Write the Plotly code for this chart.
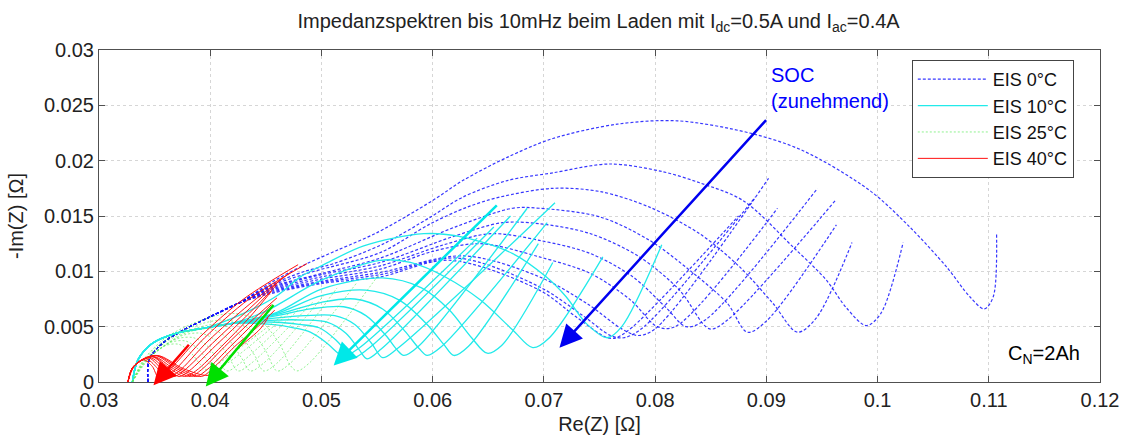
import plotly.graph_objects as go

# ---------------- data (Re(Z), -Im(Z) in Ohm) ----------------
# 0 degC  (blue, dotted)
BLUE_START_RE = [0.0344, 0.0345, 0.0357, 0.0376, 0.0400, 0.0425]
BLUE_START_IM = [0.0000, 0.0020, 0.0035, 0.0047, 0.0059, 0.0071]
BLUE_RE = [
    [0.0455, 0.0485, 0.0514, 0.0550, 0.0600, 0.0627, 0.0667, 0.0708, 0.0766, 0.0820, 0.0885, 0.0933, 0.0993, 0.1029, 0.1062, 0.1083, 0.1096, 0.1104, 0.1107],
    [0.0455, 0.0485, 0.0511, 0.0556, 0.0598, 0.0627, 0.0667, 0.0708, 0.0759, 0.0807, 0.0840, 0.0879, 0.0924, 0.0954, 0.0972, 0.0990, 0.1003, 0.1023],
    [0.0455, 0.0490, 0.0553, 0.0598, 0.0631, 0.0660, 0.0708, 0.0751, 0.0795, 0.0840, 0.0876, 0.0906, 0.0928, 0.0945, 0.0977],
    [0.0455, 0.0500, 0.0553, 0.0620, 0.0672, 0.0696, 0.0751, 0.0795, 0.0831, 0.0865, 0.0883, 0.0900, 0.0963],
    [0.0455, 0.0500, 0.0553, 0.0620, 0.0663, 0.0696, 0.0742, 0.0786, 0.0822, 0.0849, 0.0865, 0.0962],
    [0.0455, 0.0500, 0.0553, 0.0610, 0.0652, 0.0696, 0.0742, 0.0780, 0.0810, 0.0828, 0.0845, 0.0946],
    [0.0455, 0.0500, 0.0553, 0.0600, 0.0643, 0.0696, 0.0742, 0.0778, 0.0802, 0.0818, 0.0910],
    [0.0455, 0.0500, 0.0553, 0.0628, 0.0696, 0.0740, 0.0770, 0.0785, 0.0800, 0.0902],
    [0.0455, 0.0500, 0.0553, 0.0622, 0.0696, 0.0735, 0.0760, 0.0772, 0.0790, 0.0890],
    [0.0455, 0.0500, 0.0553, 0.0615, 0.0696, 0.0730, 0.0757, 0.0765, 0.0780, 0.0875],
]
BLUE_IM = [
    [0.0090, 0.0106, 0.0119, 0.0135, 0.0164, 0.0182, 0.0203, 0.0220, 0.0233, 0.0236, 0.0225, 0.0209, 0.0173, 0.0140, 0.0104, 0.0077, 0.0066, 0.0077, 0.0135],
    [0.0088, 0.0100, 0.0107, 0.0125, 0.0149, 0.0167, 0.0182, 0.0189, 0.0197, 0.0190, 0.0180, 0.0164, 0.0122, 0.0092, 0.0067, 0.0051, 0.0062, 0.0126],
    [0.0087, 0.0099, 0.0117, 0.0143, 0.0158, 0.0167, 0.0175, 0.0172, 0.0158, 0.0134, 0.0104, 0.0071, 0.0045, 0.0058, 0.0126],
    [0.0086, 0.0098, 0.0112, 0.0140, 0.0157, 0.0157, 0.0149, 0.0128, 0.0101, 0.0071, 0.0045, 0.0055, 0.0142],
    [0.0085, 0.0097, 0.0108, 0.0132, 0.0144, 0.0143, 0.0134, 0.0113, 0.0083, 0.0048, 0.0056, 0.0164],
    [0.0084, 0.0095, 0.0105, 0.0124, 0.0134, 0.0128, 0.0116, 0.0095, 0.0067, 0.0050, 0.0056, 0.0175],
    [0.0083, 0.0093, 0.0102, 0.0118, 0.0125, 0.0113, 0.0098, 0.0074, 0.0050, 0.0050, 0.0157],
    [0.0082, 0.0091, 0.0099, 0.0114, 0.0095, 0.0070, 0.0048, 0.0042, 0.0048, 0.0184],
    [0.0081, 0.0090, 0.0097, 0.0112, 0.0086, 0.0060, 0.0042, 0.0040, 0.0050, 0.0167],
    [0.0080, 0.0089, 0.0095, 0.0110, 0.0083, 0.0058, 0.0040, 0.0040, 0.0050, 0.0150],
]

# 10 degC  (cyan, solid)
CYAN_START_RE = [0.0330, 0.0335, 0.0348, 0.0369]
CYAN_START_IM = [0.0000, 0.0020, 0.0035, 0.0044]
CYAN_RE = [
    [0.0396, 0.0430, 0.0460, 0.0481, 0.0502, 0.0538, 0.0592, 0.0627, 0.0672, 0.0702, 0.0720, 0.0738, 0.0757, 0.0770, 0.0806],
    [0.0396, 0.0420, 0.0450, 0.0500, 0.0553, 0.0580, 0.0613, 0.0643, 0.0672, 0.0690, 0.0705, 0.0753],
    [0.0396, 0.0420, 0.0460, 0.0500, 0.0555, 0.0590, 0.0615, 0.0635, 0.0649, 0.0662, 0.0708],
    [0.0396, 0.0420, 0.0460, 0.0500, 0.0540, 0.0570, 0.0595, 0.0610, 0.0619, 0.0632, 0.0695],
    [0.0396, 0.0420, 0.0460, 0.0500, 0.0530, 0.0555, 0.0575, 0.0588, 0.0595, 0.0608, 0.0703],
    [0.0396, 0.0420, 0.0460, 0.0490, 0.0520, 0.0540, 0.0558, 0.0568, 0.0574, 0.0587, 0.0685],
    [0.0396, 0.0420, 0.0460, 0.0485, 0.0512, 0.0530, 0.0545, 0.0555, 0.0568, 0.0710],
    [0.0396, 0.0420, 0.0460, 0.0485, 0.0505, 0.0522, 0.0534, 0.0541, 0.0554, 0.0670],
    [0.0396, 0.0420, 0.0460, 0.0480, 0.0498, 0.0513, 0.0523, 0.0529, 0.0542, 0.0655],
    [0.0396, 0.0420, 0.0455, 0.0475, 0.0490, 0.0505, 0.0515, 0.0520, 0.0533, 0.0640],
]
CYAN_IM = [
    [0.0049, 0.0062, 0.0078, 0.0095, 0.0106, 0.0123, 0.0134, 0.0131, 0.0116, 0.0095, 0.0077, 0.0053, 0.0040, 0.0050, 0.0124],
    [0.0049, 0.0053, 0.0064, 0.0092, 0.0110, 0.0108, 0.0094, 0.0074, 0.0047, 0.0031, 0.0040, 0.0113],
    [0.0049, 0.0053, 0.0063, 0.0084, 0.0094, 0.0085, 0.0065, 0.0040, 0.0026, 0.0033, 0.0108],
    [0.0049, 0.0053, 0.0062, 0.0078, 0.0083, 0.0074, 0.0052, 0.0034, 0.0024, 0.0032, 0.0125],
    [0.0049, 0.0053, 0.0061, 0.0072, 0.0075, 0.0066, 0.0046, 0.0030, 0.0024, 0.0032, 0.0144],
    [0.0049, 0.0053, 0.0060, 0.0066, 0.0068, 0.0060, 0.0042, 0.0029, 0.0024, 0.0032, 0.0157],
    [0.0049, 0.0053, 0.0058, 0.0060, 0.0060, 0.0052, 0.0035, 0.0022, 0.0030, 0.0162],
    [0.0049, 0.0053, 0.0056, 0.0056, 0.0054, 0.0044, 0.0029, 0.0021, 0.0030, 0.0150],
    [0.0049, 0.0053, 0.0054, 0.0052, 0.0049, 0.0038, 0.0027, 0.0022, 0.0030, 0.0140],
    [0.0049, 0.0053, 0.0052, 0.0049, 0.0045, 0.0035, 0.0026, 0.0023, 0.0030, 0.0130],
]

# 25 degC  (green, dotted)
GREEN_RE = [
    [0.0330, 0.0340, 0.0360, 0.0390, 0.0420, 0.0445, 0.0462, 0.0472, 0.0478, 0.0490, 0.0553],
    [0.0330, 0.0340, 0.0360, 0.0390, 0.0415, 0.0435, 0.0450, 0.0460, 0.0472, 0.0532],
    [0.0330, 0.0340, 0.0360, 0.0385, 0.0408, 0.0425, 0.0440, 0.0448, 0.0460, 0.0514],
    [0.0330, 0.0340, 0.0360, 0.0380, 0.0400, 0.0415, 0.0428, 0.0436, 0.0448, 0.0502],
    [0.0330, 0.0340, 0.0358, 0.0375, 0.0392, 0.0407, 0.0418, 0.0425, 0.0437, 0.0492],
    [0.0330, 0.0340, 0.0355, 0.0370, 0.0385, 0.0398, 0.0408, 0.0415, 0.0427, 0.0482],
    [0.0330, 0.0340, 0.0352, 0.0365, 0.0378, 0.0390, 0.0399, 0.0405, 0.0417, 0.0472],
    [0.0330, 0.0340, 0.0350, 0.0360, 0.0372, 0.0383, 0.0391, 0.0397, 0.0409, 0.0465],
]
GREEN_IM = [
    [0.0000, 0.0020, 0.0040, 0.0055, 0.0062, 0.0055, 0.0035, 0.0015, 0.0010, 0.0018, 0.0099],
    [0.0000, 0.0019, 0.0038, 0.0052, 0.0056, 0.0048, 0.0028, 0.0010, 0.0017, 0.0090],
    [0.0000, 0.0018, 0.0036, 0.0048, 0.0052, 0.0044, 0.0024, 0.0010, 0.0017, 0.0085],
    [0.0000, 0.0017, 0.0034, 0.0045, 0.0048, 0.0040, 0.0022, 0.0010, 0.0017, 0.0078],
    [0.0000, 0.0017, 0.0032, 0.0042, 0.0044, 0.0036, 0.0020, 0.0010, 0.0017, 0.0072],
    [0.0000, 0.0016, 0.0030, 0.0039, 0.0040, 0.0032, 0.0018, 0.0010, 0.0017, 0.0068],
    [0.0000, 0.0016, 0.0028, 0.0036, 0.0037, 0.0029, 0.0017, 0.0011, 0.0018, 0.0063],
    [0.0000, 0.0015, 0.0026, 0.0033, 0.0034, 0.0026, 0.0016, 0.0011, 0.0018, 0.0060],
]

# 40 degC  (red, solid)
RED_RE = [
    [0.0326, 0.0331, 0.0340, 0.0348, 0.0353, 0.0360, 0.0390, 0.0430, 0.0479],
    [0.0326, 0.0331, 0.0342, 0.0352, 0.0358, 0.0366, 0.0395, 0.0435, 0.0487],
    [0.0326, 0.0331, 0.0344, 0.0355, 0.0362, 0.0371, 0.0398, 0.0435, 0.0472],
    [0.0326, 0.0331, 0.0346, 0.0358, 0.0367, 0.0376, 0.0402, 0.0435, 0.0465],
    [0.0326, 0.0331, 0.0347, 0.0361, 0.0372, 0.0381, 0.0405, 0.0435, 0.0460],
    [0.0326, 0.0331, 0.0348, 0.0364, 0.0377, 0.0387, 0.0410, 0.0435, 0.0455],
    [0.0326, 0.0331, 0.0349, 0.0367, 0.0382, 0.0392, 0.0413, 0.0440, 0.0460],
    [0.0326, 0.0331, 0.0350, 0.0370, 0.0387, 0.0397, 0.0418, 0.0440, 0.0455],
    [0.0326, 0.0331, 0.0351, 0.0373, 0.0392, 0.0402, 0.0422, 0.0445, 0.0458],
    [0.0326, 0.0331, 0.0352, 0.0376, 0.0398, 0.0408, 0.0427, 0.0445, 0.0452],
]
RED_IM = [
    [0.0000, 0.0013, 0.0020, 0.0014, 0.0005, 0.0008, 0.0040, 0.0075, 0.0106],
    [0.0000, 0.0014, 0.0021, 0.0013, 0.0005, 0.0009, 0.0040, 0.0075, 0.0107],
    [0.0000, 0.0014, 0.0022, 0.0013, 0.0005, 0.0009, 0.0037, 0.0070, 0.0099],
    [0.0000, 0.0014, 0.0022, 0.0013, 0.0005, 0.0010, 0.0035, 0.0066, 0.0094],
    [0.0000, 0.0014, 0.0023, 0.0013, 0.0005, 0.0010, 0.0033, 0.0062, 0.0088],
    [0.0000, 0.0014, 0.0023, 0.0012, 0.0005, 0.0010, 0.0032, 0.0058, 0.0082],
    [0.0000, 0.0014, 0.0023, 0.0012, 0.0005, 0.0011, 0.0032, 0.0058, 0.0076],
    [0.0000, 0.0014, 0.0024, 0.0012, 0.0005, 0.0011, 0.0032, 0.0054, 0.0070],
    [0.0000, 0.0014, 0.0024, 0.0012, 0.0005, 0.0012, 0.0032, 0.0052, 0.0065],
    [0.0000, 0.0014, 0.0024, 0.0012, 0.0006, 0.0012, 0.0032, 0.0048, 0.0058],
]

LEGEND_NAMES = ["EIS 0°C", "EIS 10°C", "EIS 25°C", "EIS 40°C"]

# SOC arrows: (tail_re, tail_im, head_re, head_im, colour)
ARROWS = [
    (0.0901, 0.0238, 0.0714, 0.0031, "#0000f0"),
    (0.0659, 0.0161, 0.0511, 0.0015, "#00e8e8"),
    (0.0458, 0.0071, 0.0396, -0.0004, "#00e000"),
    (0.0382, 0.0035, 0.0349, -0.0003, "#ff0000"),
]

FONT = "Liberation Sans, Arial, sans-serif"

fig = go.Figure()

families = [
    (BLUE_RE, BLUE_IM, BLUE_START_RE, BLUE_START_IM, dict(color="rgba(20,20,255,0.85)", width=1.2, dash="3px,2px")),
    (CYAN_RE, CYAN_IM, CYAN_START_RE, CYAN_START_IM, dict(color="#22eaea", width=1.3)),
    (GREEN_RE, GREEN_IM, [], [], dict(color="rgba(90,235,90,0.75)", width=0.9, dash="2px,2px")),
    (RED_RE, RED_IM, [], [], dict(color="#ff1010", width=1.0)),
]

for k, (res, ims, sre, sim, line) in enumerate(families):
    for i, (xs, ys) in enumerate(zip(res, ims)):
        fig.add_trace(go.Scatter(
            x=sre + xs, y=sim + ys, mode="lines",
            line=dict(shape="spline", smoothing=0.9, **line),
            name=LEGEND_NAMES[k], legendgroup=LEGEND_NAMES[k],
            showlegend=(i == 0), hoverinfo="skip",
        ))

for tx, ty, hx, hy, col in ARROWS:
    fig.add_annotation(
        x=hx, y=hy, ax=tx, ay=ty, xref="x", yref="y", axref="x", ayref="y",
        showarrow=True, arrowhead=2, arrowsize=1.8, arrowwidth=2.5,
        arrowcolor=col, text="", standoff=0,
    )

fig.add_annotation(x=0.0902, y=0.0266, xref="x", yref="y", xanchor="left", yanchor="middle",
                   text="SOC<br>(zunehmend)", showarrow=False, align="left",
                   font=dict(family=FONT, size=20, color="#0000ff"))
fig.add_annotation(x=0.1150, y=0.0025, xref="x", yref="y", xanchor="center", yanchor="middle",
                   text="C<sub>N</sub>=2Ah", showarrow=False,
                   font=dict(family=FONT, size=20, color="#000000"))

axis_common = dict(
    showgrid=True, gridcolor="#d6d6d6", griddash="dot", gridwidth=1,
    showline=True, linecolor="#505050", linewidth=1, mirror="ticks",
    ticks="inside", ticklen=6, tickcolor="#505050",
    tickfont=dict(family=FONT, size=20, color="#222222"),
    zeroline=False, automargin=False,
)

fig.update_layout(
    width=1121, height=439,
    margin=dict(l=99, r=21, t=50, b=57),
    paper_bgcolor="white", plot_bgcolor="white",
    title=dict(text="Impedanzspektren bis 10mHz beim Laden mit I<sub>dc</sub>=0.5A und I<sub>ac</sub>=0.4A",
               x=0.534, xanchor="center", y=0.953, yanchor="middle",
               font=dict(family=FONT, size=20, color="#222222")),
    xaxis=dict(range=[0.03, 0.12], dtick=0.01, tick0=0.03,
               title=dict(text="Re(Z) [Ω]", standoff=6, font=dict(family=FONT, size=20, color="#222222")),
               **axis_common),
    yaxis=dict(range=[0, 0.03], dtick=0.005, tick0=0,
               title=dict(text="-Im(Z) [Ω]", standoff=14, font=dict(family=FONT, size=20, color="#222222")),
               **axis_common),
    legend=dict(x=0.812, y=0.97, xanchor="left", yanchor="top",
                bgcolor="white", bordercolor="#444444", borderwidth=1,
                font=dict(family=FONT, size=18, color="#111111"),
                itemwidth=70, tracegroupgap=0),
    showlegend=True,
)

fig.write_html("out.html")
